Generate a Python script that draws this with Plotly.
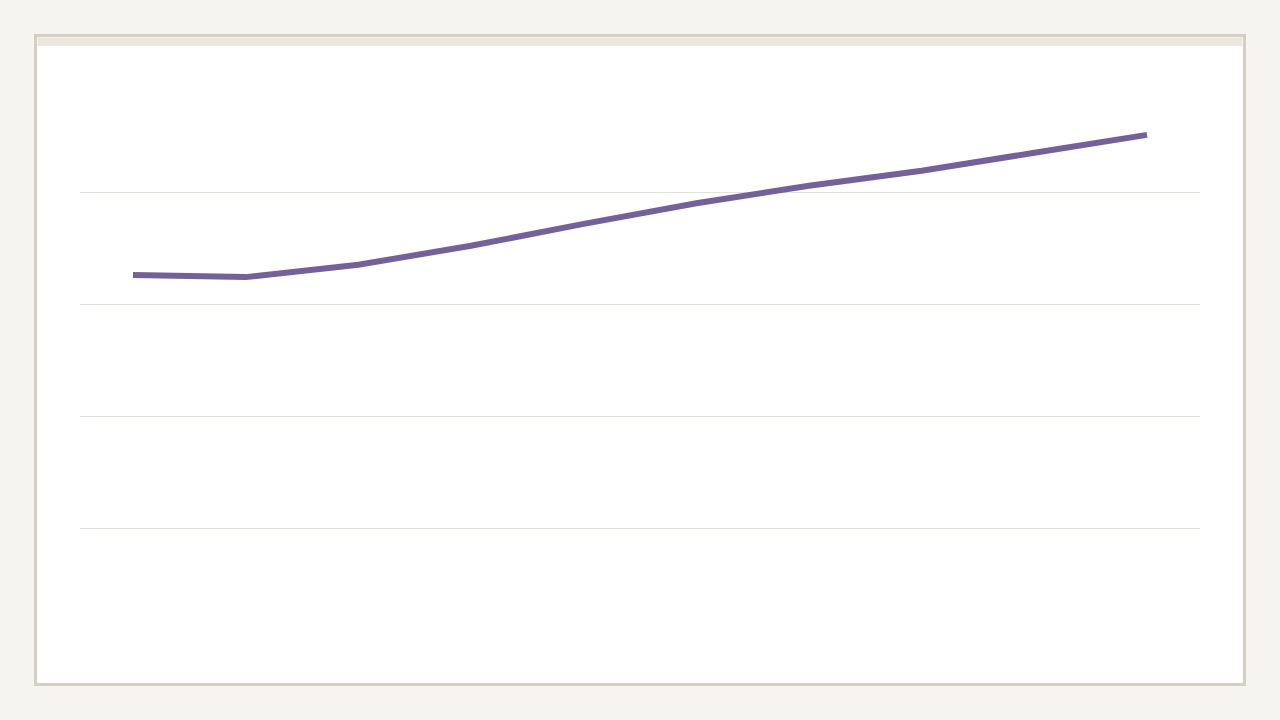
import plotly.graph_objects as go

# Data (axis 0-100, gridlines at 20/40/60/80)
categories = ["P1", "P2", "P3", "P4", "P5", "P6", "P7", "P8", "P9", "P10"]
values = [65.2, 64.8, 67.0, 70.4, 74.3, 78.0, 81.1, 83.8, 87.0, 90.2]
grid_ticks = [20, 40, 60, 80]

W, H = 1280, 720
L, R, T, B = 80, 80, 80, 80
PW, PH = W - L - R, H - T - B
BG = "#f5f4ef"


def px(x):
    return (x - L) / PW


def py(y):
    return (H - B - y) / PH


fig = go.Figure()
fig.add_trace(go.Scatter(
    x=categories, y=values, mode="lines",
    line=dict(color="#74619b", width=6),
    hoverinfo="skip", showlegend=False,
))

shapes = [
    dict(type="rect", xref="paper", yref="paper", layer="below",
         x0=px(35.5), x1=px(1244.5), y0=py(684.5), y1=py(35.5),
         fillcolor="#ffffff", line=dict(color="#d3cfc4", width=3)),
    dict(type="rect", xref="paper", yref="paper", layer="below",
         x0=px(37.5), x1=px(1242.5), y0=py(46), y1=py(37.5),
         fillcolor="#ebe7dd", line=dict(width=0)),
]

fig.update_layout(
    width=W, height=H,
    margin=dict(l=L, r=R, t=T, b=B, pad=0),
    paper_bgcolor=BG,
    plot_bgcolor="rgba(0,0,0,0)",
    shapes=shapes,
    xaxis=dict(type="category", range=[-0.47, 9.47], showgrid=False,
               showticklabels=False, zeroline=False, showline=False,
               ticks=""),
    yaxis=dict(range=[0, 100], tickvals=grid_ticks, showgrid=True,
               gridcolor="#e3e2d6", gridwidth=1, showticklabels=False,
               zeroline=False, showline=False, ticks=""),
)

post = (
    "document.body.style.margin='0';"
    "document.body.style.padding='0';"
    "document.body.style.background='" + BG + "';"
    "document.body.style.overflow='hidden';"
)

fig.write_html("out.html", config={"displayModeBar": False}, post_script=post)
